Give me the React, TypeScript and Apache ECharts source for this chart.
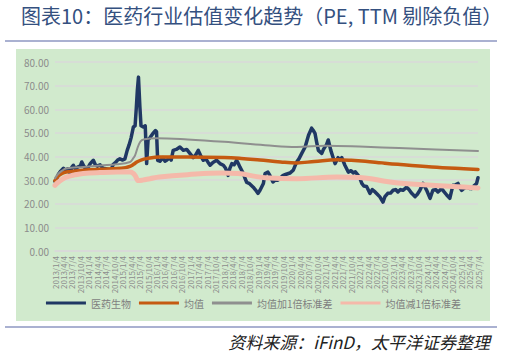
import React, { useEffect, useRef } from "react";
import * as echarts from "echarts";

const titleText = "图表10：医药行业估值变化趋势（PE, TTM 剔除负值）";
const sourceText = "资料来源：iFinD，太平洋证券整理";

const seriesNames = ["医药生物", "均值", "均值加1倍标准差", "均值减1倍标准差"];

const tickLabels = [
  "2013/1/4", "2013/4/4", "2013/7/4", "2013/10/4",
  "2014/1/4", "2014/4/4", "2014/7/4", "2014/10/4",
  "2015/1/4", "2015/4/4", "2015/7/4", "2015/10/4",
  "2016/1/4", "2016/4/4", "2016/7/4", "2016/10/4",
  "2017/1/4", "2017/4/4", "2017/7/4", "2017/10/4",
  "2018/1/4", "2018/4/4", "2018/7/4", "2018/10/4",
  "2019/1/4", "2019/4/4", "2019/7/4", "2019/10/4",
  "2020/1/4", "2020/4/4", "2020/7/4", "2020/10/4",
  "2021/1/4", "2021/4/4", "2021/7/4", "2021/10/4",
  "2022/1/4", "2022/4/4", "2022/7/4", "2022/10/4",
  "2023/1/4", "2023/4/4", "2023/7/4", "2023/10/4",
  "2024/1/4", "2024/4/4", "2024/7/4", "2024/10/4",
  "2025/1/4", "2025/4/4", "2025/7/4",
];

// x = months since 2013/1/4
const pe = [
  [0, 29.5], [0.6, 30.5], [1.2, 32.5], [2, 33.8], [3, 35], [3.8, 34], [4.5, 34.8], [5.3, 33],
  [6, 35.5], [6.5, 36.3], [7.3, 34.5], [8, 35.5], [9, 36], [9.5, 37.7], [10.2, 36], [11, 34.5],
  [11.8, 35.5], [12.5, 37], [13.6, 38.4], [14.3, 36.5], [15, 35.9], [16, 36.5], [17, 35], [18, 34.8],
  [19, 34.5], [19.5, 33.5], [20.1, 35], [20.6, 36.6], [21.5, 37.5], [22.2, 38.5], [23, 39], [24, 38.5],
  [24.8, 39], [25.6, 42.6], [26.3, 45], [27, 48], [27.8, 52.5], [28.4, 53], [28.8, 60], [29.2, 68],
  [29.6, 73.6], [30.1, 61], [30.5, 53], [31.3, 52.5], [32, 53], [32.5, 37], [33, 47], [33.7, 48],
  [34.9, 50], [35.6, 51], [36, 50.5], [36.4, 38.4], [37.2, 38], [38.3, 39.5], [39, 38], [39.6, 38.4],
  [40.7, 39.5], [41.2, 38.5], [41.9, 42.6], [43, 43], [44.3, 44], [45.5, 42.6], [46.7, 43], [47.9, 41.2],
  [49, 39.5], [49.8, 40.5], [50.8, 42.6], [51.6, 40.5], [52.6, 38.4], [53.5, 39], [54.3, 37.5], [55, 36.3],
  [56, 37.5], [57.3, 38.4], [58.5, 37], [59.7, 36.3], [60.5, 35], [61.4, 32], [62, 35], [62.7, 37],
  [63.5, 36.5], [64.4, 38.4], [65, 37], [65.6, 35.5], [66.7, 33], [67.3, 31], [68, 29], [69, 28.5],
  [70.3, 27], [71, 26], [72, 24.4], [72.7, 25.7], [73.9, 28.6], [74.5, 32.8], [75.5, 33.4], [76.2, 32],
  [77.3, 29.2], [78, 30], [79, 30], [80, 31], [80.9, 32], [82, 32.5], [83.3, 33], [84.5, 34.2],
  [85.7, 37.7], [86.5, 39], [87.5, 41.3], [88.7, 44], [89.9, 49], [91, 52], [91.6, 51], [92.2, 49.8],
  [92.8, 46], [93.4, 42.6], [94.6, 41.3], [95.2, 43], [95.7, 44], [96.3, 45], [96.9, 47], [97.8, 42.6],
  [98.5, 40], [99.3, 37], [100.4, 39.5], [101, 38.5], [101.7, 39.5], [102.8, 36.3], [104, 33.4], [105, 34],
  [105.8, 33], [106.5, 33.5], [107.5, 32], [108.2, 30.5], [108.8, 28.6], [109.5, 27.5], [110.5, 27.3], [111.7, 24.4],
  [112.5, 26], [113.5, 25], [114.3, 24], [115.2, 22.9], [116.3, 20.7], [117, 23], [118, 24.4], [119, 24.5],
  [119.9, 25.7], [120.8, 26], [121.6, 25], [122.5, 26], [123.4, 25.7], [124.7, 27], [125.5, 26], [126.5, 24.4],
  [127.7, 23], [128.5, 24], [129.4, 25.7], [130.5, 28.6], [131.2, 27], [131.8, 25.7], [133, 22.3], [134, 25.7],
  [135, 26], [135.8, 25], [137.1, 26.4], [138, 25], [138.9, 23.7], [140, 22.3], [141.1, 27.8], [142, 28],
  [142.9, 28.6], [143.5, 27], [144.2, 25.7], [145, 26.5], [146, 27], [147, 26.5], [147.7, 26.4], [148.5, 27.5],
  [149.5, 28.6], [150, 31],
];

const meanLine = [
  [0, 29.8], [1, 31.5], [2.5, 32.8], [4, 33.4], [10, 34.2], [16, 34.6], [22, 34.9], [25, 35.3],
  [26.6, 35.8], [28, 36.8], [29, 37.7], [30.5, 38.5], [32.5, 39.1], [37, 39.8], [47, 39.8], [60, 39.6],
  [66, 39.2], [72.7, 38.5], [80, 37.7], [85.7, 37.3], [92, 37.9], [100, 38.6], [105, 38.4], [110, 38],
  [116, 37.3], [121.6, 36.7], [133.6, 35.6], [145, 34.8], [150, 34.5],
];

const upperLine = [
  [0, 30.8], [1, 32.5], [2.5, 34], [4, 34.9], [10, 35.6], [16, 36.2], [22, 36.7], [26.6, 37.7],
  [27.6, 39], [28.4, 40.5], [29.6, 44.7], [30.8, 46.9], [33.7, 47.6], [36, 47.7], [47, 47.2], [60, 46.2],
  [74.5, 44.8], [85.7, 44], [96, 44.6], [110, 44.1], [122, 43.6], [135, 43], [150, 42.3],
];

const lowerLine = [
  [0, 27.8], [1, 29], [2.5, 30.3], [4, 31.3], [7, 32.2], [10, 32.8], [16, 33.2], [22, 33.4],
  [26.6, 33.4], [27.6, 33], [28.4, 32], [29.6, 29.8], [31, 30], [33.7, 30.6], [37, 31.3], [47, 32.3],
  [59, 33], [65, 32.8], [71, 31.6], [74.5, 31], [85.7, 30.6], [100, 31.3], [108, 31.1], [112, 30.6],
  [117, 29.5], [121.6, 28.8], [133.6, 27.8], [145, 27.1], [150, 26.7],
];

const colors = ["#203864", "#c55a11", "#8f8f8f", "#f5b9aa"];
const widths = [3.5, 3.5, 2, 5];
const seriesData = [pe, meanLine, upperLine, lowerLine];

export default function App() {
  const ref = useRef<HTMLDivElement>(null);
  useEffect(() => {
    if (!ref.current) return;
    const chart = echarts.init(ref.current, null, { renderer: "svg" });
    const font = "'Noto Sans CJK SC', 'Noto Sans', sans-serif";
    chart.setOption({
      animation: false,
      textStyle: { fontFamily: font },
      title: [
        {
          text: titleText,
          left: 16,
          top: 0,
          textStyle: { fontSize: 20, fontWeight: "normal", color: "#34507f", fontFamily: font },
        },
        {
          text: sourceText,
          right: 12,
          top: 328,
          textStyle: { fontSize: 17, fontWeight: "normal", fontStyle: "italic", color: "#222222", fontFamily: font },
        },
      ],
      graphic: [
        { type: "rect", z: -10, shape: { x: 16, y: 49, width: 474, height: 272 }, style: { fill: "#d1eacd" } },
        { type: "line", shape: { x1: 5, y1: 41, x2: 497, y2: 41 }, style: { stroke: "#8e97c2", lineWidth: 1.5 } },
        { type: "line", shape: { x1: 5, y1: 327, x2: 497, y2: 327 }, style: { stroke: "#8e97c2", lineWidth: 1.5 } },
      ],
      grid: { left: 55, right: 29, top: 62, bottom: 103 },
      legend: {
        data: seriesNames,
        left: "center",
        top: 293,
        icon: "rect",
        itemWidth: 40,
        itemHeight: 3,
        itemGap: 8,
        textStyle: { fontSize: 10, color: "#7f7f7f", fontFamily: font },
      },
      xAxis: {
        type: "value",
        min: 0,
        max: 150,
        interval: 3,
        axisLine: { show: true, lineStyle: { color: "#d9d9d9", width: 1.5 } },
        axisTick: { show: false },
        splitLine: { show: false },
        axisLabel: {
          rotate: 90,
          fontSize: 8,
          color: "#8c8c8c",
          margin: 5,
          formatter: (v: number) => tickLabels[Math.round(v / 3)] ?? "",
        },
      },
      yAxis: {
        type: "value",
        min: 0,
        max: 80,
        interval: 10,
        axisLine: { show: false },
        axisTick: { show: false },
        splitLine: { lineStyle: { color: "#d9d9d9", width: 1.5 } },
        axisLabel: {
          fontSize: 10,
          color: "#8c8c8c",
          margin: 6,
          formatter: (v: number) => v.toFixed(2),
        },
      },
      series: seriesNames.map((name, i) => ({
        name,
        type: "line",
        data: seriesData[i],
        symbol: "none",
        smooth: i === 0 ? false : 0.4,
        lineStyle: { color: colors[i], width: widths[i], join: "round", cap: "round" },
        itemStyle: { color: colors[i] },
        z: 2 + i,
      })),
    });
    return () => chart.dispose();
  }, []);
  return <div ref={ref} style={{ width: 507, height: 354, position: "absolute", left: 0, top: 0 }} />;
}
